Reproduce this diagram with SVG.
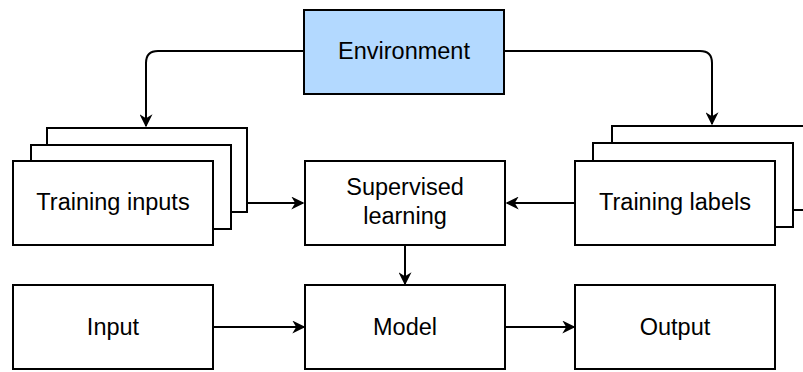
<svg xmlns="http://www.w3.org/2000/svg" width="803" height="372" viewBox="0 0 803 372">
<defs>
<style>
.box{fill:#fff;stroke:#000;stroke-width:2}
.env{fill:#b3d9ff;stroke:#000;stroke-width:2}
.lbl{font-family:"Liberation Sans",Arial,sans-serif;font-size:23.5px;fill:#000;text-anchor:middle}
.edge{fill:none;stroke:#000;stroke-width:2;marker-end:url(#ah)}
</style>
<marker id="ah" viewBox="0 0 10 10" refX="9" refY="5" markerWidth="6.5" markerHeight="6.5" markerUnits="strokeWidth" orient="auto">
<path d="M0,0 L10,5 L0,10 L3,5 Z" fill="#000"/>
</marker>
</defs>
<rect width="803" height="372" fill="#fff"/>
<g id="connectors">
<path class="edge" d="M304,51 L158,51 Q146,51 146,63 L146,126"/>
<path class="edge" d="M504,51 L700,51 Q712,51 712,63 L712,124"/>
<path class="edge" d="M247,203 L303,203"/>
<path class="edge" d="M575,203 L507,203"/>
<path class="edge" d="M405,245 L405,284"/>
<path class="edge" d="M213,327 L304,327"/>
<path class="edge" d="M505,327 L574,327"/>
</g>
<g id="environment">
<rect class="env" x="304" y="10" width="200" height="84"/>
<text class="lbl" x="404" y="59">Environment</text>
</g>
<g id="training-inputs">
<rect class="box" x="47" y="128" width="200" height="84"/>
<rect class="box" x="31" y="145" width="200" height="84"/>
<rect class="box" x="13" y="161" width="200" height="84"/>
<text class="lbl" x="113" y="210">Training inputs</text>
</g>
<g id="supervised-learning">
<rect class="box" x="305" y="161" width="200" height="84"/>
<text class="lbl" x="405" y="195">Supervised</text>
<text class="lbl" x="405" y="224">learning</text>
</g>
<g id="training-labels">
<rect class="box" x="612" y="126" width="200" height="84"/>
<rect class="box" x="593" y="143" width="200" height="84"/>
<rect class="box" x="575" y="161" width="200" height="84"/>
<text class="lbl" x="675" y="210">Training labels</text>
</g>
<g id="input">
<rect class="box" x="13" y="285" width="200" height="84"/>
<text class="lbl" x="113" y="335">Input</text>
</g>
<g id="model">
<rect class="box" x="305" y="285" width="200" height="84"/>
<text class="lbl" x="405" y="335">Model</text>
</g>
<g id="output">
<rect class="box" x="575" y="285" width="200" height="84"/>
<text class="lbl" x="675" y="335">Output</text>
</g>
</svg>
